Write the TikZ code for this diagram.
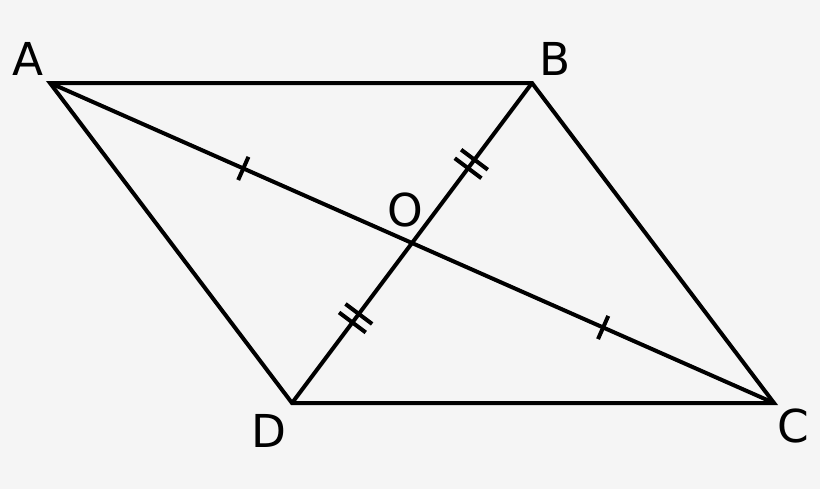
\documentclass[tikz,border=0pt]{standalone}
\usepackage{fontspec}
\setmainfont{DejaVu Sans}
\usetikzlibrary{calc}
\definecolor{bg}{HTML}{F5F5F5}
\begin{document}
\begin{tikzpicture}[x=0.75pt,y=-0.75pt,
  edge/.style={line width=3pt, line join=miter},
  tickmark/.style={line width=3pt},
  lbl/.style={anchor=base, inner sep=0pt, font=\fontsize{34}{40}\selectfont}]
\fill[bg] (0,0) rectangle (820,489);
\useasboundingbox (0,0) rectangle (820,489);
\coordinate (A) at (50,83);
\coordinate (B) at (532,83);
\coordinate (C) at (774,403);
\coordinate (D) at (292,403);
\coordinate (O) at (intersection of A--C and B--D);
\draw[edge] (A) -- (B) -- (C) -- (D) -- cycle;
\draw[edge] (A) -- (C);
\draw[edge] (B) -- (D);
% single ticks on AO and OC
\coordinate (t1) at ($(A)!0.267!(C)$);
\coordinate (t2) at ($(A)!0.764!(C)$);
\foreach \t in {t1,t2}{
  \draw[tickmark] ($(\t)!9.5pt!90:(C)$) -- ($(\t)!9.5pt!-90:(C)$);
}
% double ticks on OB and DO
\coordinate (t3) at ($(B)!0.253!(D)$);
\coordinate (t4) at ($(B)!0.735!(D)$);
\foreach \t in {t3,t4}{
  \coordinate (u) at ($(\t)!4pt!(B)$);
  \coordinate (v) at ($(\t)!4pt!(D)$);
  \draw[tickmark] ($(u)!12.5pt!90:(B)$) -- ($(u)!12.5pt!-90:(B)$);
  \draw[tickmark] ($(v)!12.5pt!90:(D)$) -- ($(v)!12.5pt!-90:(D)$);
}
\node[lbl] (la) at (28,75) {A};
\node[lbl] (lb) at (555,75) {B};
\node[lbl] (lc) at (793,442) {C};
\node[lbl] (ld) at (269,447) {D};
\node[lbl] (lo) at (405,226) {O};
\end{tikzpicture}
\end{document}
